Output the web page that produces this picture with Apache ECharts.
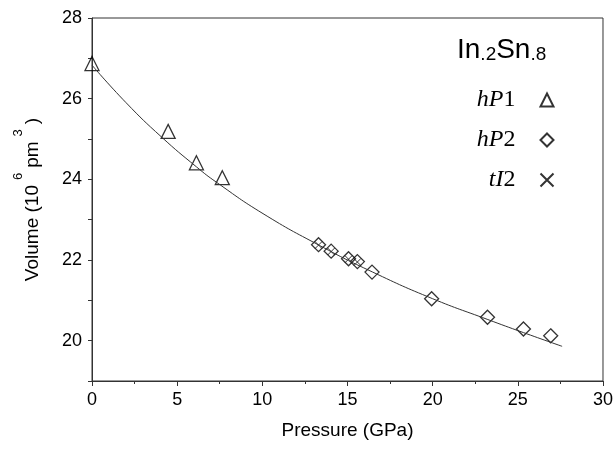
<!DOCTYPE html>
<html lang="en">

<head>
    <meta charset="UTF-8">
    <title>In.2Sn.8 volume vs pressure</title>
    <script src="https://cdn.jsdelivr.net/npm/echarts@6/dist/echarts.min.js"></script>
</head>

<body style="margin:0">
    <div id="main" style="width: 616px;height:450px;"></div>
    <script type="text/javascript">
        // hP1 points (pressure GPa, volume 10^6 pm^3)
        var hP1 = [[0, 26.87], [4.47, 25.19], [6.13, 24.41], [7.65, 24.04]];
        // hP2 points
        var hP2 = [[13.3, 22.38], [14.04, 22.22], [15.06, 22.03], [15.58, 21.96], [16.44, 21.70],
            [19.94, 21.04], [23.22, 20.58], [25.33, 20.29], [26.93, 20.12]];
        // tI2 points (sitting inside the first hP2 diamonds)
        var tI2 = [[13.3, 22.37], [14.04, 22.21], [15.06, 22.02], [15.58, 21.95]];
        // fitted curve
        var fit = [[0, 26.83], [2, 25.9], [4.08, 25.05], [6.13, 24.31], [7.3, 23.93], [10.04, 23.15],
            [13.36, 22.36], [16.48, 21.70], [20, 21.04], [23.2, 20.53], [25.33, 20.2], [27.6, 19.86]];

        var myChart = echarts.init(document.getElementById('main'));
        var sans = 'Liberation Sans';
        var serif = 'Liberation Serif';

        option = {
            backgroundColor: '#fff',
            animation: false,
            // 右上角的组成标题
            title: {
                text: '{a|In}{b|.2}{a|Sn}{b|.8}',
                left: 457,
                top: 36,
                padding: 0,
                textStyle: {
                    fontWeight: 'normal',
                    rich: {
                        a: { fontFamily: sans, fontSize: 28, fontWeight: 'normal', color: '#000', lineHeight: 28, verticalAlign: 'bottom' },
                        b: { fontFamily: sans, fontSize: 19, fontWeight: 'normal', color: '#000', lineHeight: 20, verticalAlign: 'bottom' }
                    }
                }
            },
            legend: {
                data: ['hP1', 'hP2', 'tI2'],
                orient: 'vertical',
                align: 'right',
                right: 55,
                top: 83,
                itemGap: 16,
                itemWidth: 13,
                itemHeight: 13,
                formatter: function (name) {
                    return '{i|' + name.slice(0, 2) + '}{n|' + name.slice(2) + '}';
                },
                textStyle: {
                    padding: [0, 20, 0, 0],
                    rich: {
                        i: { fontFamily: serif, fontStyle: 'italic', fontSize: 24, color: '#000', lineHeight: 22 },
                        n: { fontFamily: serif, fontSize: 24, color: '#000', lineHeight: 22 }
                    }
                }
            },
            grid: {
                left: 92,
                right: 12,
                top: 18,
                bottom: 69,
                show: true,
                borderColor: '#333',
                borderWidth: 1
            },
            xAxis: {
                type: 'value',
                min: 0,
                max: 30,
                interval: 5,
                name: 'Pressure (GPa)',
                nameLocation: 'middle',
                nameGap: 40,
                nameTextStyle: { fontFamily: sans, fontSize: 19, color: '#000' },
                axisLine: { lineStyle: { color: '#333', width: 1 } },
                axisTick: { length: 5, lineStyle: { color: '#333' } },
                minorTick: { show: true, splitNumber: 2, length: 3, lineStyle: { color: '#333' } },
                splitLine: { show: false },
                axisLabel: { fontFamily: sans, fontSize: 18, color: '#000', margin: 10 }
            },
            yAxis: {
                type: 'value',
                min: 19,
                max: 28,
                interval: 1,
                name: '{a|Volume (10}{s|6}{a|pm}{s|3}{a|)}',
                nameLocation: 'middle',
                nameGap: 50,
                nameTextStyle: {
                    rich: {
                        a: { fontFamily: sans, fontSize: 19, color: '#000', lineHeight: 30, verticalAlign: 'bottom' },
                        s: { fontFamily: sans, fontSize: 13, color: '#000', lineHeight: 13, verticalAlign: 'top', padding: [0, 5, 0, 5] }
                    }
                },
                axisLine: { lineStyle: { color: '#333', width: 1 } },
                axisTick: { length: 4, lineStyle: { color: '#333' } },
                splitLine: { show: false },
                axisLabel: {
                    fontFamily: sans, fontSize: 18, color: '#000', margin: 10,
                    // 只显示偶数刻度
                    formatter: function (v) { return v % 2 === 0 ? v : ''; }
                }
            },
            series: [
                {
                    name: 'fit',
                    type: 'line',
                    data: fit,
                    smooth: true,
                    showSymbol: false,
                    silent: true,
                    lineStyle: { color: '#333', width: 1 }
                },
                {
                    name: 'hP1',
                    type: 'scatter',
                    data: hP1,
                    symbol: 'triangle',
                    symbolSize: 14,
                    itemStyle: { color: 'none', borderColor: '#000', borderWidth: 1.3 }
                },
                {
                    name: 'hP2',
                    type: 'scatter',
                    data: hP2,
                    symbol: 'diamond',
                    symbolSize: 14,
                    itemStyle: { color: 'none', borderColor: '#000', borderWidth: 1.3 }
                },
                {
                    name: 'tI2',
                    type: 'scatter',
                    data: tI2,
                    symbol: 'path://M0,0L10,10M0,10L10,0',
                    symbolSize: 7,
                    itemStyle: { color: 'none', borderColor: '#000', borderWidth: 1 }
                }
            ]
        };

        myChart.setOption(option);
    </script>
</body>

</html>
